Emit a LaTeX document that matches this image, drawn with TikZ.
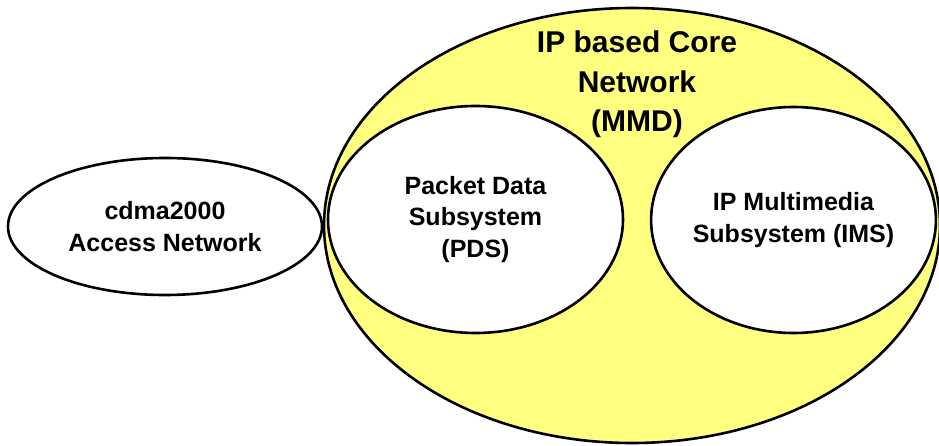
\documentclass[tikz,border=0pt]{standalone}
\usepackage{fontspec}
\setmainfont{Liberation Sans}
\usepackage{tikz}
\usetikzlibrary{shapes.geometric}
\definecolor{coreyellow}{HTML}{FFFF80}
\def\netnode{\node[ellipse,draw=black,line width=2.6pt,fill=white,inner sep=0pt,align=center,font=\bfseries\fontsize{25}{31.5}\selectfont]}
\def\corenode{\node[ellipse,draw=black,line width=2.6pt,fill=coreyellow,inner sep=0pt]}

\begin{document}
\begin{tikzpicture}[x=1pt,y=-1pt]
\useasboundingbox (0,0) rectangle (939,446);
% sizes are twice the radii in pixels
\corenode[minimum width=616pt,minimum height=435pt] (core) at (632,225.5) {};
\node[align=center,anchor=north,inner sep=0pt,font=\bfseries\fontsize{30}{39.5}\selectfont] (core_title) at (637,31) {IP based Core\\Network\\(MMD)};

% access network, left of the core
\netnode[minimum width=314pt,minimum height=137pt] (access) at (165,226.5) {cdma2000\\Access Network};

% the two subsystems inside the core
\netnode[minimum width=295pt,minimum height=227pt] (pds) at (475.5,219.5) {Packet Data\\Subsystem\\(PDS)};
\netnode[minimum width=283pt,minimum height=226pt] (ims) at (793.5,220) {IP Multimedia\\Subsystem (IMS)};
\end{tikzpicture}
\end{document}
